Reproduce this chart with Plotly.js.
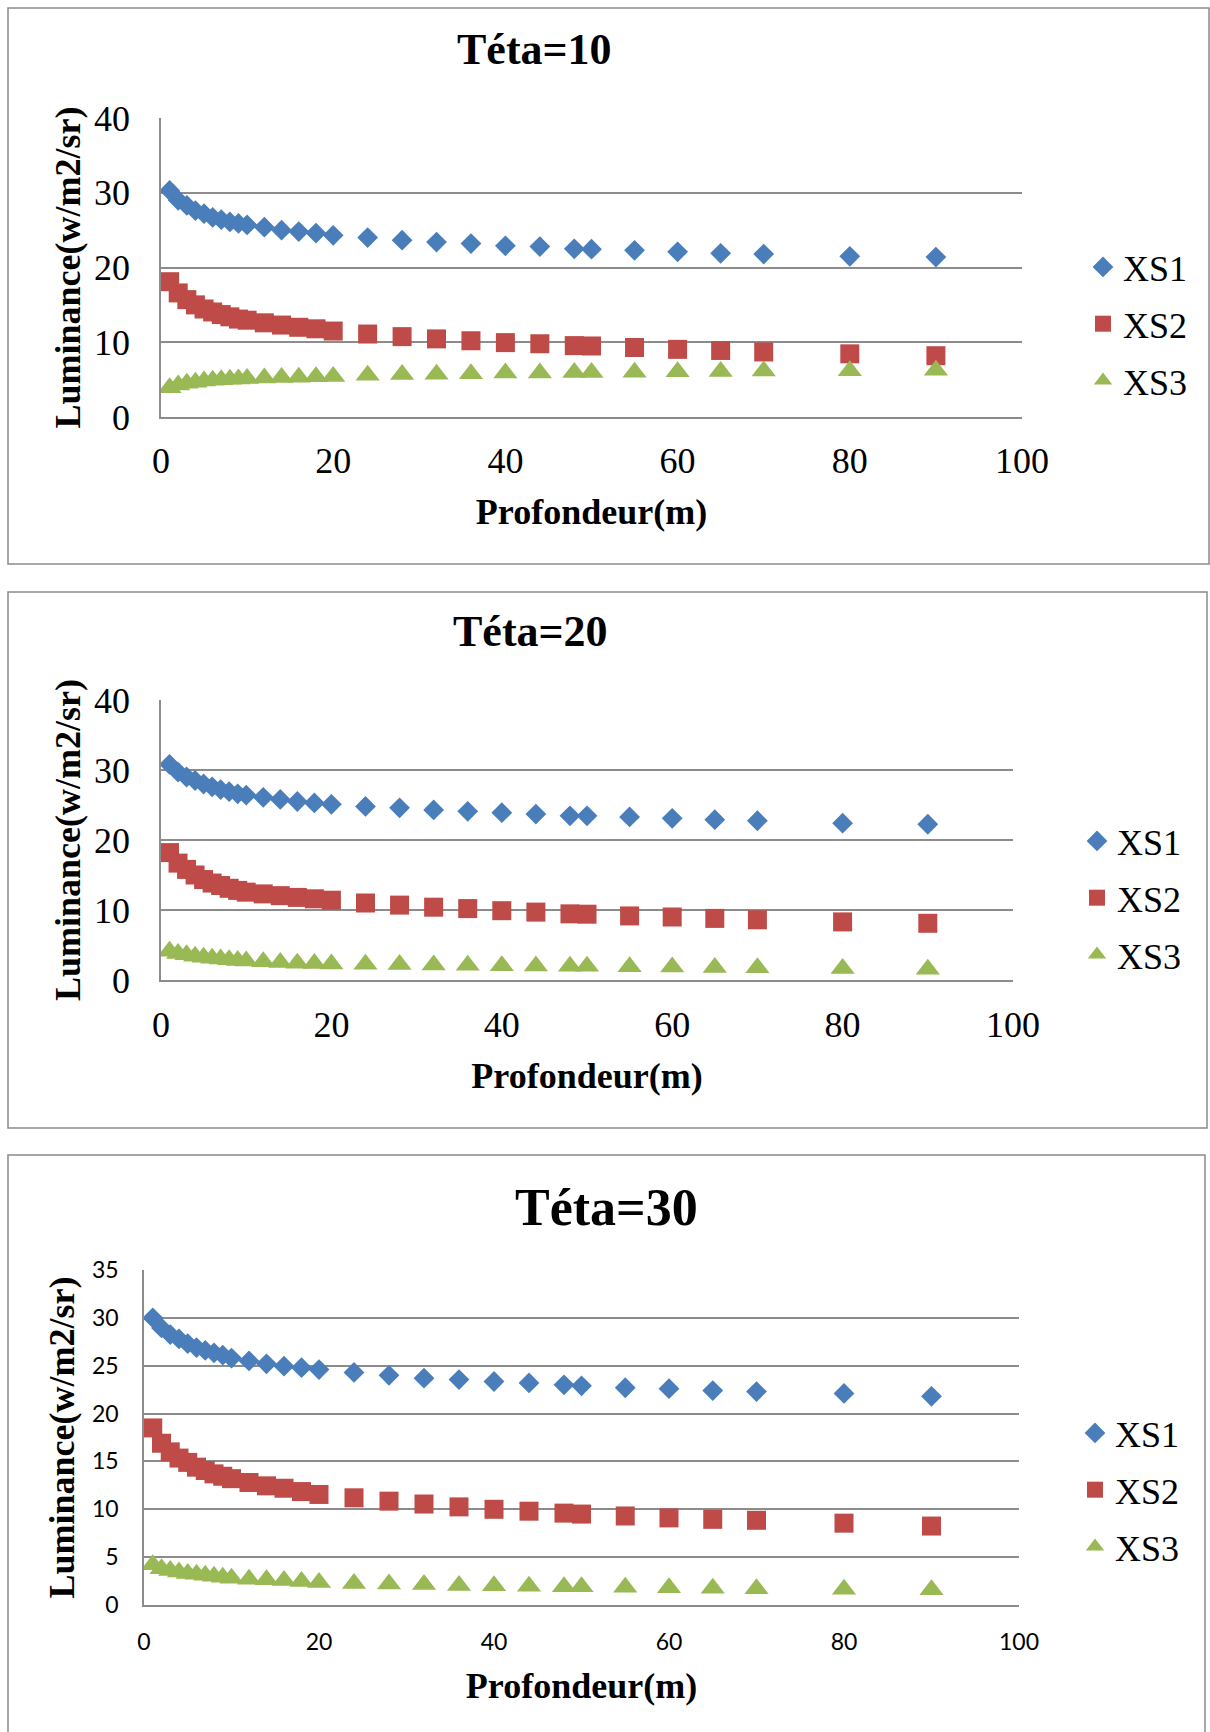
<!DOCTYPE html>
<html>
<head>
<meta charset="utf-8">
<script src="https://cdn.plot.ly/plotly-3.0.1.min.js"></script>
<style>html,body{margin:0;padding:0;background:#fff;}#chart{width:1210px;height:1732px;}</style>
</head>
<body>
<div id="chart"></div>
<script>
// ---- data ----
const profondeur = [1,2,3,4,5,6,7,8,9,10,12,14,16,18,20,24,28,32,36,40,44,48,50,55,60,65,70,80,90];
const seriesNames = ['XS1','XS2','XS3'];
const panelTitles = ['Téta=10','Téta=20','Téta=30'];
const xTitle = 'Profondeur(m)';
const yTitle = 'Luminance(w/m2/sr)';

const teta10_XS1 = [30.3,29.0,28.3,27.6,27.2,26.7,26.4,26.1,25.9,25.7,25.4,25.0,24.8,24.6,24.3,24.0,23.65,23.4,23.2,22.9,22.8,22.5,22.45,22.3,22.1,21.9,21.8,21.5,21.4];
const teta10_XS2 = [18.1,16.6,15.7,15.0,14.45,14.05,13.7,13.4,13.1,12.95,12.6,12.3,12.0,11.8,11.5,11.1,10.75,10.45,10.2,9.95,9.8,9.55,9.5,9.3,9.05,8.9,8.7,8.45,8.2];
const teta10_XS3 = [3.9,4.27,4.5,4.65,4.8,4.9,4.98,5.05,5.1,5.15,5.22,5.28,5.33,5.38,5.42,5.6,5.7,5.73,5.78,5.87,5.9,5.95,5.95,6.0,6.05,6.1,6.15,6.2,6.25];

const teta20_XS1 = [30.8,29.7,29.0,28.5,28.0,27.6,27.2,26.9,26.6,26.4,26.1,25.8,25.5,25.3,25.1,24.8,24.6,24.3,24.1,23.9,23.7,23.45,23.45,23.3,23.1,22.9,22.75,22.4,22.25];
const teta20_XS2 = [18.2,16.7,15.8,15.0,14.35,13.85,13.5,13.1,12.8,12.55,12.3,12.05,11.8,11.6,11.4,11.0,10.7,10.4,10.2,9.9,9.7,9.45,9.4,9.15,9.0,8.8,8.6,8.3,8.1];
const teta20_XS3 = [4.1,3.8,3.6,3.4,3.25,3.1,3.0,2.9,2.8,2.7,2.6,2.5,2.4,2.35,2.3,2.25,2.2,2.15,2.1,2.05,2.0,1.95,1.95,1.9,1.85,1.8,1.75,1.65,1.55];

const teta30_XS1 = [30.0,28.95,28.25,27.8,27.3,26.9,26.6,26.35,26.1,25.8,25.5,25.2,24.95,24.8,24.6,24.3,24.0,23.7,23.55,23.35,23.2,23.0,22.9,22.7,22.6,22.4,22.3,22.1,21.8];
const teta30_XS2 = [18.5,16.9,16.0,15.35,14.9,14.4,14.05,13.7,13.45,13.2,12.8,12.45,12.2,11.85,11.55,11.2,10.85,10.55,10.25,10.0,9.8,9.6,9.5,9.3,9.1,8.95,8.85,8.55,8.25];
const teta30_XS3 = [4.2,3.8,3.6,3.45,3.3,3.2,3.1,3.0,2.9,2.8,2.7,2.65,2.55,2.45,2.35,2.25,2.2,2.15,2.05,2.0,1.95,1.9,1.9,1.85,1.8,1.75,1.7,1.65,1.6];

const xTickVals = [0,20,40,60,80,100];
const yRanges = [[0,40],[0,40],[0,35]];
const yDticks = [10,10,5];

// ---- styling ----
const W = 1210, H = 1732;
const fx = v => v / W;
const fy = v => 1 - v / H;
const colors = ['#4A7EBB', '#BE4B48', '#98B954'];
const symbols = ['diamond', 'square', 'triangle-up'];
const msizes = [16, 19, 21];
const serif = 'Liberation Serif, Times New Roman, serif';
const sans = 'Lato, Open Sans, sans-serif';
const gridC = '#8C8C8C';

const panels = [
  {data:[teta10_XS1,teta10_XS2,teta10_XS3], plot:[161,1022,118,417], box:[8,1209,8,564], title:[534,50,44], legend:[1083,324], tickFont:{family:serif,size:36}, yStand:22, xStand:11, yTS:2, xTS:19},
  {data:[teta20_XS1,teta20_XS2,teta20_XS3], plot:[161,1013,700,980], box:[8,1207,592,1128], title:[530,632,44], legend:[1077,898], tickFont:{family:serif,size:36}, yStand:22, xStand:12, yTS:2, xTS:19},
  {data:[teta30_XS1,teta30_XS2,teta30_XS3], plot:[144,1019,1270,1605], box:[8,1205,1155,1760], title:[606,1207,52], legend:[1075,1490], tickFont:{family:sans,size:23}, yStand:19, xStand:16, yTS:6, xTS:18}
];

const traces = [];
const layout = {
  width: W, height: H,
  margin: {l:0, r:0, t:0, b:0},
  paper_bgcolor: '#ffffff', plot_bgcolor: '#ffffff',
  showlegend: true,
  annotations: [], shapes: []
};

panels.forEach((p, i) => {
  const n = i + 1;
  const xa = 'xaxis' + (n === 1 ? '' : n), ya = 'yaxis' + (n === 1 ? '' : n);
  const xr = 'x' + (n === 1 ? '' : n), yr = 'y' + (n === 1 ? '' : n);
  const lg = 'legend' + (n === 1 ? '' : n);
  p.data.forEach((vals, s) => {
    traces.push({
      type: 'scatter', mode: 'markers', name: seriesNames[s],
      x: profondeur, y: vals, xaxis: xr, yaxis: yr, legend: lg,
      legendgroup: 'p' + n + 's' + s,
      marker: {symbol: symbols[s], size: msizes[s], color: colors[s], line: {width: 0}},
      hoverinfo: 'x+y+name'
    });
  });
  layout[xa] = {
    domain: [fx(p.plot[0]), fx(p.plot[1])], anchor: yr,
    range: [0, 100], tickvals: xTickVals, showgrid: false, zeroline: false,
    showline: true, linecolor: gridC, linewidth: 1.5, ticks: '',
    ticklabelstandoff: p.xStand, tickfont: Object.assign({color:'#000'}, p.tickFont),
    title: {text: xTitle, font: {family: serif, size: 36, color: '#000', weight: 'bold'}, standoff: p.xTS},
    fixedrange: true
  };
  layout[ya] = {
    domain: [fy(p.plot[3]), fy(p.plot[2])], anchor: xr,
    range: yRanges[i], dtick: yDticks[i], tick0: 0,
    showgrid: true, gridcolor: gridC, gridwidth: 1.5, zeroline: false,
    showline: true, linecolor: gridC, linewidth: 1.5, ticks: '',
    ticklabelstandoff: p.yStand, tickfont: Object.assign({color:'#000'}, p.tickFont),
    title: {text: yTitle, font: {family: serif, size: 36, color: '#000', weight: 'bold'}, standoff: p.yTS},
    fixedrange: true
  };
  layout[lg] = {
    x: fx(p.legend[0]), y: fy(p.legend[1]), xanchor: 'left', yanchor: 'middle',
    xref: 'paper', yref: 'paper', bgcolor: 'rgba(0,0,0,0)', borderwidth: 0,
    font: {family: serif, size: 36, color: '#000'}, tracegroupgap: 7,
    itemclick: false, itemdoubleclick: false
  };
  layout.annotations.push({
    text: panelTitles[i], xref: 'paper', yref: 'paper',
    x: fx(p.title[0]), y: fy(p.title[1]), xanchor: 'center', yanchor: 'middle',
    showarrow: false, font: {family: serif, size: p.title[2], color: '#000', weight: 'bold'}
  });
  layout.shapes.push({
    type: 'rect', xref: 'paper', yref: 'paper', layer: 'below',
    x0: fx(p.box[0]), x1: fx(p.box[1]), y0: fy(p.box[3]), y1: fy(p.box[2]),
    line: {color: '#8A8A8A', width: 1.5}, fillcolor: 'rgba(0,0,0,0)'
  });
});

Plotly.newPlot('chart', traces, layout, {displayModeBar: false, staticPlot: false, responsive: false});
</script>
</body>
</html>
